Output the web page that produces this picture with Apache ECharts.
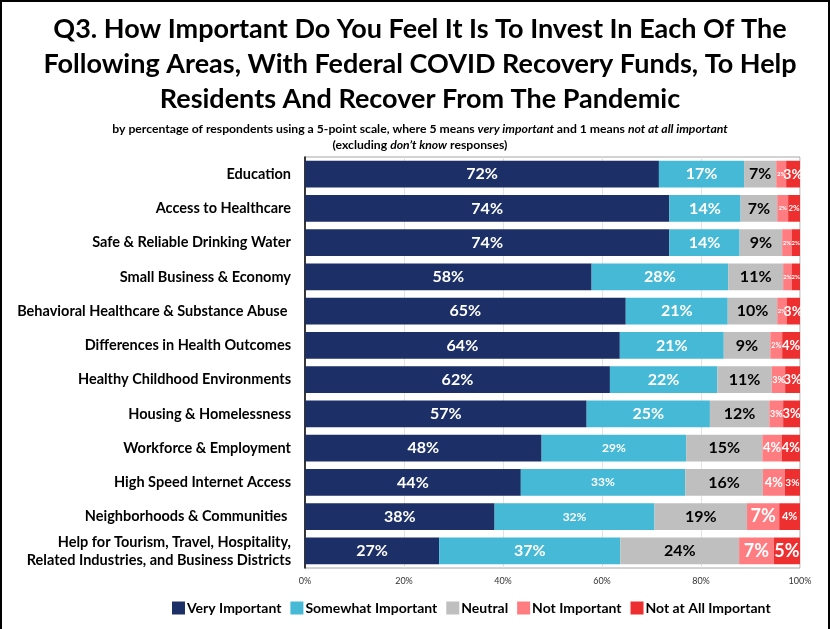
<!DOCTYPE html>
<html>
<head>
<meta charset="utf-8">
<script src="https://cdn.jsdelivr.net/npm/echarts@6/dist/echarts.min.js"></script>
<style>
html,body{margin:0;padding:0;background:#fff;}
#chart{width:830px;height:629px;}
</style>
</head>
<body>
<div id="chart"></div>
<script>
const categories = [
  "Education",
  "Access to Healthcare",
  "Safe & Reliable Drinking Water",
  "Small Business & Economy",
  "Behavioral Healthcare & Substance Abuse ",
  "Differences in Health Outcomes",
  "Healthy Childhood Environments",
  "Housing & Homelessness",
  "Workforce & Employment",
  "High Speed Internet Access",
  "Neighborhoods & Communities ",
  "Help for Tourism, Travel, Hospitality,\nRelated Industries, and Business Districts"
];
const seriesNames = ["Very Important", "Somewhat Important", "Neutral", "Not Important", "Not at All Important"];
const veryImportant     = [71.5, 73.6, 73.6, 57.9, 64.8, 63.6, 61.6, 56.9, 47.8, 43.6, 38.3, 27.1];
const somewhatImportant = [17.2, 14.4, 14.2, 27.6, 20.6, 21.0, 21.7, 24.9, 29.2, 33.2, 32.3, 36.6];
const neutral           = [6.5, 7.4, 8.6, 11.1, 10.0, 9.4, 11.0, 12.0, 15.4, 15.7, 18.7, 24.0];
const notImportant      = [2.0, 2.2, 1.9, 1.7, 1.9, 2.4, 2.7, 2.8, 3.9, 4.4, 6.5, 7.0];
const notAtAll          = [2.8, 2.4, 1.7, 1.7, 2.7, 3.6, 3.0, 3.4, 3.7, 3.1, 4.2, 5.3];
const xTicks = [0, 20, 40, 60, 80, 100];

const seriesData = [veryImportant, somewhatImportant, neutral, notImportant, notAtAll];
const colors = ["#1c2f66", "#45b9d6", "#bfbfbf", "#ff7c80", "#ee2f2f"];
const labelColors = ["#ffffff", "#ffffff", "#000000", "#ffffff", "#ffffff"];
// label font sizes per series/row (styling)
const labelSizes = [
  [16,16,16,16,16,16,16,16,16,16,16,16],
  [16,16,16,16,16,16,16,16,12,12,12,16],
  [16,16,16,16,16,16,16,16,16,16,16,16],
  [6,6,6,6,6,7,9,9,13,13,18,18],
  [14,8,6,6,14,13,13,13,13,10,11,18]
];

const FONT = "Lato, 'Open Sans', sans-serif";
const chart = echarts.init(document.getElementById('chart'), null, {renderer: 'canvas'});

const series = seriesNames.map((name, si) => ({
  name: name,
  type: 'bar',
  stack: 'total',
  barCategoryGap: '22%',
  itemStyle: {color: colors[si]},
  data: seriesData[si].map((v, ri) => ({
    value: v,
    label: {fontSize: labelSizes[si][ri]}
  })),
  label: {
    show: true,
    position: 'inside',
    color: labelColors[si],
    fontFamily: FONT,
    fontWeight: 'bold',
    formatter: p => Math.round(p.value) + '%'
  }
}));

chart.setOption({
  backgroundColor: '#fff',
  animation: false,
  title: [
    {
      text: 'Q3. How Important Do You Feel It Is To Invest In Each Of The\nFollowing Areas, With Federal COVID Recovery Funds, To Help\nResidents And Recover From The Pandemic',
      left: 415, top: 7,
      textAlign: 'center',
      textStyle: {fontFamily: FONT, fontWeight: 'bold', fontSize: 27, lineHeight: 35, color: '#000'}
    },
    {
      text: '{n|by percentage of respondents using a 5-point scale, where 5 means }{i|very important}{n| and 1 means }{i|not at all important}\n{n|(excluding }{i|don\u2019t know}{n| responses)}',
      left: 415, top: 116,
      textAlign: 'center',
      textStyle: {
        rich: {
          n: {fontFamily: FONT, fontSize: 12.2, color: '#000', lineHeight: 16, align: 'center'},
          i: {fontFamily: FONT, fontSize: 12.2, color: '#000', fontWeight: 'bold', fontStyle: 'italic', lineHeight: 16, align: 'center'}
        }
      }
    }
  ],
  legend: {
    bottom: 9, left: 167,
    itemWidth: 13, itemHeight: 13, itemGap: 9,
    icon: 'rect',
    textStyle: {fontFamily: FONT, fontWeight: 'bold', fontSize: 14, color: '#000', padding: [0,0,0,-3]},
    data: seriesNames
  },
  grid: {
    left: 305, right: 30, top: 157, bottom: 61,
    show: true, borderColor: '#a6a6a6', borderWidth: 1
  },
  xAxis: {
    type: 'value', min: 0, max: 100, interval: 20,
    axisLine: {show: false}, axisTick: {show: false},
    splitLine: {show: true, lineStyle: {color: '#e3e3e3'}},
    axisLabel: {formatter: v => xTicks.indexOf(v) >= 0 ? v + '%' : '', fontFamily: FONT, fontSize: 9, color: '#333', margin: 9}
  },
  yAxis: {
    type: 'category', inverse: true, data: categories,
    axisLine: {show: true, lineStyle: {color: '#000', width: 1.5}},
    axisTick: {show: false},
    axisLabel: {fontFamily: FONT, fontWeight: 'bold', fontSize: 14.5, color: '#000', margin: 14, lineHeight: 18, align: 'right'}
  },
  graphic: [
    {type: 'line', shape: {x1: 1, y1: 0, x2: 1, y2: 629}, style: {stroke: '#000', lineWidth: 2}},
    {type: 'line', shape: {x1: 0, y1: 1, x2: 830, y2: 1}, style: {stroke: '#000', lineWidth: 2}},
    {type: 'line', shape: {x1: 829, y1: 0, x2: 829, y2: 629}, style: {stroke: '#000', lineWidth: 2}}
  ],
  series: series
});
</script>
</body>
</html>
